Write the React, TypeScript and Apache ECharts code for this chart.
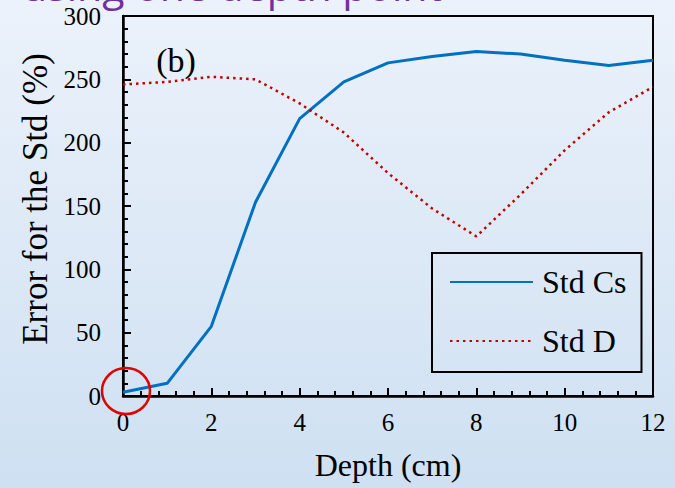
import React, { useEffect, useRef } from "react";
import * as echarts from "echarts";

const depth = [0, 1, 2, 3, 4, 5, 6, 7, 8, 9, 10, 11, 12];
const stdCs = [3, 10, 55, 153, 219, 248, 263, 268, 272, 270, 265, 261, 265];
const stdD = [246, 248, 252, 250, 231, 208, 176, 148, 126, 159, 194, 224, 244];
const seriesNames = ["Std Cs", "Std D"];
const titleText = "using one depth point";
const panelLabel = "(b)";

const serif = "'Liberation Serif', 'Times New Roman', serif";

export default function App() {
  const ref = useRef<HTMLDivElement>(null);
  useEffect(() => {
    if (!ref.current) return;
    const chart = echarts.init(ref.current, undefined, { renderer: "svg" });
    chart.setOption({
      animation: false,
      backgroundColor: "transparent",
      grid: {
        left: 123,
        right: 22,
        top: 16,
        bottom: 92,
        show: true,
        borderColor: "#000",
        borderWidth: 2,
        backgroundColor: "transparent",
      },
      xAxis: {
        type: "value",
        min: 0,
        max: 12,
        interval: 2,
        name: "Depth (cm)",
        nameLocation: "middle",
        nameGap: 53,
        nameTextStyle: { fontFamily: serif, fontSize: 32, color: "#000" },
        axisLine: { show: true, onZero: false, lineStyle: { color: "#000", width: 2.5 } },
        axisTick: { show: true, inside: true, length: 8, lineStyle: { color: "#000", width: 2 } },
        minorTick: { show: true, splitNumber: 5, length: 5, lineStyle: { color: "#000", width: 2 } },
        axisLabel: { fontFamily: serif, fontSize: 25, color: "#000", margin: 14 },
        splitLine: { show: false },
      },
      yAxis: {
        type: "value",
        min: 0,
        max: 300,
        interval: 50,
        name: "Error for the Std (%)",
        nameLocation: "middle",
        nameGap: 68,
        nameTextStyle: { fontFamily: serif, fontSize: 35, color: "#000", padding: [0, 0, 0, 14] },
        axisLine: { show: true, onZero: false, lineStyle: { color: "#000", width: 2.5 } },
        axisTick: { show: true, inside: true, length: 8, lineStyle: { color: "#000", width: 2 } },
        minorTick: { show: true, splitNumber: 5, length: 5, lineStyle: { color: "#000", width: 2 } },
        axisLabel: { fontFamily: serif, fontSize: 25, color: "#000", margin: 22 },
        splitLine: { show: false },
      },
      legend: {
        orient: "vertical",
        left: 432,
        top: 253,
        padding: [13, 15, 15, 17],
        itemGap: 27,
        itemWidth: 83,
        itemHeight: 14,
        borderColor: "#000",
        borderWidth: 2,
        data: seriesNames,
        itemStyle: { opacity: 0 },
        textStyle: {
          fontFamily: serif,
          fontSize: 32,
          color: "#000",
          lineHeight: 30,
          padding: [0, 0, 0, 4],
        },
      },
      graphic: [
        {
          type: "text",
          left: 22,
          y: -15,
          style: {
            text: titleText,
            fontFamily: "'Open Sans', 'Noto Sans', sans-serif",
            fontSize: 41,
            fill: "#7030A0",
            verticalAlign: "middle",
          },
        },
        {
          type: "text",
          x: 176,
          y: 60,
          style: {
            text: panelLabel,
            fontFamily: serif,
            fontSize: 34,
            fill: "#000",
            align: "center",
            verticalAlign: "middle",
          },
        },
        {
          type: "ellipse",
          z: 100,
          shape: { cx: 126, cy: 391, rx: 24, ry: 23 },
          style: { fill: "none", stroke: "#E00000", lineWidth: 2.5 },
        },
      ],
      series: [
        {
          name: seriesNames[0],
          type: "line",
          data: depth.map((d, i) => [d, stdCs[i]]),
          symbol: "none",
          itemStyle: { color: "#0070C0" },
          lineStyle: { color: "#0070C0", width: 3 },
        },
        {
          name: seriesNames[1],
          type: "line",
          data: depth.map((d, i) => [d, stdD[i]]),
          symbol: "none",
          itemStyle: { color: "#C00000" },
          lineStyle: { color: "#C00000", width: 2.5, type: [2.5, 4] },
        },
      ],
    });
    return () => chart.dispose();
  }, []);
  return (
    <div
      style={{
        position: "fixed",
        left: 0,
        top: 0,
        width: 675,
        height: 488,
        background: "linear-gradient(to bottom, #EBF2FB 0%, #DDE9F6 50%, #CEE0F2 100%)",
      }}
    >
      <div ref={ref} style={{ width: 675, height: 488 }} />
    </div>
  );
}
